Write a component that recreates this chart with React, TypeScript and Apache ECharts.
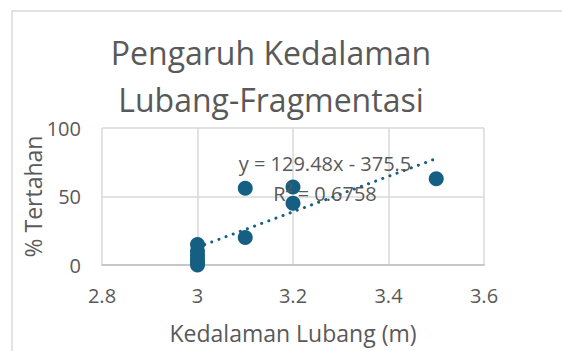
import React, { useEffect, useRef } from "react";
import * as echarts from "echarts";

const depthX = [3, 3, 3, 3, 3, 3, 3.1, 3.1, 3.2, 3.2, 3.5];
const retainedY = [15, 10, 7, 4, 2, 0, 56, 20, 57, 45, 63];
const trendX = [3, 3.5];
const trendY = [12.94, 77.68];
const xTicks = [2.8, 3, 3.2, 3.4, 3.6];
const yTicks = [0, 50, 100];
const titleLines = ["Pengaruh Kedalaman", "Lubang-Fragmentasi"];
const equationLines = ["y = 129.48x - 375.5", "R² = 0.6758"];

const FONT = "Open Sans, Noto Sans, sans-serif";
const TEXT = "#595959";
const BLUE = "#156082";

export default function App() {
  const ref = useRef<HTMLDivElement>(null);
  useEffect(() => {
    if (!ref.current) return;
    const chart = echarts.init(ref.current, null, { renderer: "svg" });
    chart.setOption({
      animation: false,
      backgroundColor: "#ffffff",
      title: {
        text: titleLines.join("\n"),
        left: 266,
        top: 24,
        textAlign: "center",
        textStyle: { fontFamily: FONT, fontSize: 32, fontWeight: "normal", color: TEXT, lineHeight: 47 },
      },
      grid: { left: 102, right: 78, top: 128, bottom: 86 },
      xAxis: {
        type: "value",
        min: xTicks[0],
        max: xTicks[xTicks.length - 1],
        interval: 0.2,
        name: "Kedalaman Lubang (m)",
        nameLocation: "middle",
        nameGap: 56,
        nameMoveOverlap: false,
        nameTextStyle: { fontFamily: FONT, fontSize: 23, color: TEXT },
        axisLine: { show: true, lineStyle: { color: "#bfbfbf", width: 1.5 } },
        axisTick: { show: false },
        axisLabel: { fontFamily: FONT, fontSize: 20, color: TEXT, margin: 20, formatter: (v: number) => String(+v.toFixed(1)) },
        splitLine: { show: true, lineStyle: { color: "#d9d9d9", width: 1.5 } },
      },
      yAxis: {
        type: "value",
        min: yTicks[0],
        max: yTicks[yTicks.length - 1],
        interval: 50,
        name: "% Tertahan",
        nameLocation: "middle",
        nameGap: 58,
        nameMoveOverlap: false,
        nameTextStyle: { fontFamily: FONT, fontSize: 23, color: TEXT },
        axisLine: { show: false },
        axisTick: { show: false },
        axisLabel: { fontFamily: FONT, fontSize: 20, color: TEXT, margin: 21 },
        splitLine: { show: true, lineStyle: { color: "#d9d9d9", width: 1.5 } },
      },
      graphic: [
        {
          type: "rect",
          shape: { x: 12, y: 11, width: 700, height: 500 },
          style: { fill: "none", stroke: "#d9d9d9", lineWidth: 1.5 },
          silent: true,
          z: -1,
        },
        {
          type: "text",
          x: 325,
          y: 178,
          style: {
            text: equationLines.join("\n"),
            fontFamily: FONT,
            fontSize: 20,
            fill: TEXT,
            align: "center",
            verticalAlign: "middle",
            lineHeight: 30,
          },
          z: 10,
        },
      ],
      series: [
        {
          type: "scatter",
          data: depthX.map((x, i) => [x, retainedY[i]]),
          symbol: "circle",
          symbolSize: 15,
          itemStyle: { color: BLUE, opacity: 1 },
          z: 3,
        },
        {
          type: "line",
          data: trendX.map((x, i) => [x, trendY[i]]),
          symbol: "none",
          lineStyle: { color: BLUE, width: 3, type: [0.1, 7.5], cap: "round" },
          z: 4,
        },
      ],
    });
    return () => chart.dispose();
  }, []);
  return <div ref={ref} style={{ position: "fixed", left: 0, top: 0, width: 562, height: 351 }} />;
}
